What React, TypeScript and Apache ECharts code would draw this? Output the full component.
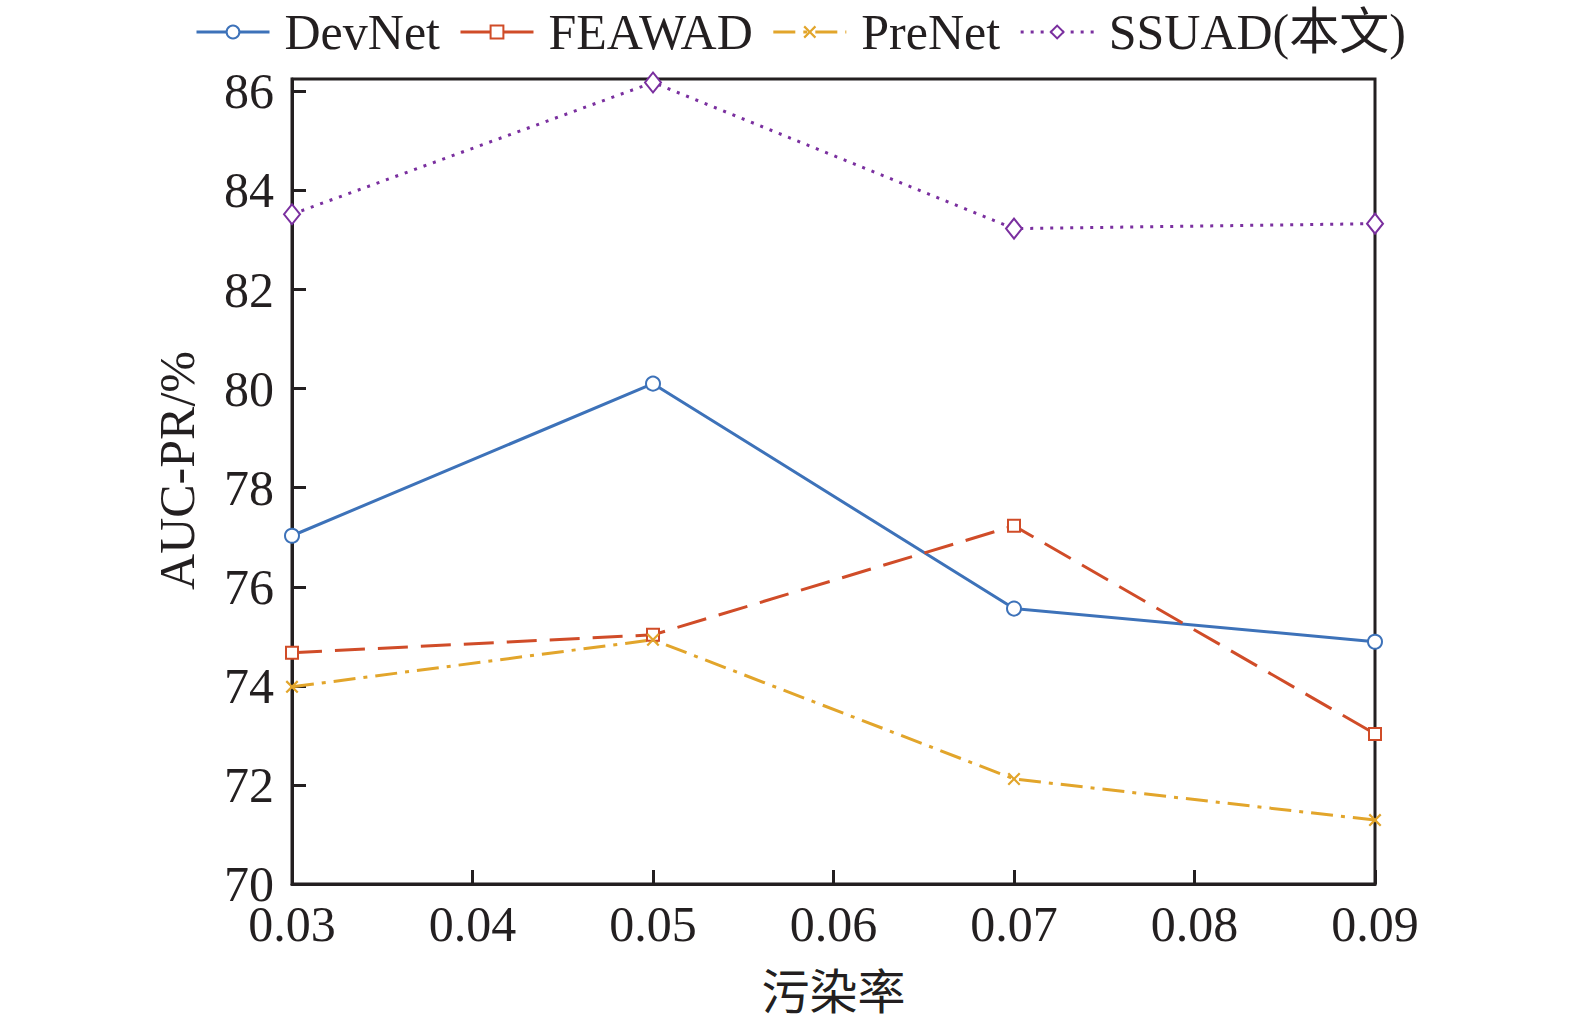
import React, { useEffect, useRef } from "react";
import * as echarts from "echarts";

const xValues = [0.03, 0.05, 0.07, 0.09];
const seriesNames = ["DevNet", "FEAWAD", "PreNet", "SSUAD(本文)"];
const devNet = [77.03, 80.1, 75.56, 74.89];
const feawad = [74.67, 75.03, 77.23, 73.03];
const preNet = [73.98, 74.93, 72.12, 71.29];
const ssuad = [83.52, 86.18, 83.23, 83.33];

const FONT = "'Liberation Serif', 'Times New Roman', 'Noto Sans CJK SC', serif";
const TEXT = "#231f20";
const X_SYMBOL =
  "path://M0,1.2L1.2,0L5,3.8L8.8,0L10,1.2L6.2,5L10,8.8L8.8,10L5,6.2L1.2,10L0,8.8L3.8,5Z";
const DASHES: any[] = ["solid", [30, 13], [22, 8, 4, 8], [3, 7]];
const COLORS = ["#3d72b9", "#d04c28", "#e2a52b", "#7a2f9f"];

export default function App() {
  const ref = useRef<HTMLDivElement>(null);
  useEffect(() => {
    if (!ref.current) return;
    const chart = echarts.init(ref.current, undefined, { renderer: "svg" });
    const mk = (vals: number[]) => xValues.map((x, i) => [x, vals[i]]);
    chart.setOption({
      animation: false,
      backgroundColor: "#ffffff",
      textStyle: { fontFamily: FONT, color: TEXT },
      legend: {
        top: 2,
        left: 190,
        itemWidth: 73,
        itemHeight: 16,
        itemGap: 19,
        textStyle: {
          fontFamily: FONT,
          fontSize: 50,
          color: TEXT,
          padding: [0, 0, 0, 10],
        },
        data: seriesNames.map((n, i) => ({
          name: n,
          lineStyle: { type: DASHES[i], width: 3, color: COLORS[i] },
        })),
      },
      grid: {
        left: 292,
        top: 79,
        right: 200,
        bottom: 144,
        show: true,
        borderColor: TEXT,
        borderWidth: 3,
      },
      xAxis: {
        type: "value",
        min: 0.03,
        max: 0.09,
        interval: 0.01,
        name: "污染率",
        nameLocation: "middle",
        nameGap: 84,
        nameTextStyle: { fontFamily: FONT, fontSize: 48, color: TEXT },
        axisLine: { show: true, lineStyle: { color: TEXT, width: 3 } },
        axisTick: { show: true, inside: true, length: 14, lineStyle: { color: TEXT, width: 3 } },
        axisLabel: {
          fontFamily: FONT,
          fontSize: 50,
          lineHeight: 36,
          color: TEXT,
          margin: 22,
          formatter: (v: number) => v.toFixed(2),
        },
        splitLine: { show: false },
      },
      yAxis: {
        type: "value",
        min: 70,
        max: 86.25,
        interval: 2,
        name: "AUC-PR/%",
        nameLocation: "middle",
        nameGap: 90,
        nameTextStyle: {
          fontFamily: FONT,
          fontSize: 50,
          color: TEXT,
          padding: [0, 0, 0, 22],
        },
        axisLine: { show: true, lineStyle: { color: TEXT, width: 3 } },
        axisTick: { show: true, inside: true, length: 14, lineStyle: { color: TEXT, width: 3 } },
        axisLabel: {
          fontFamily: FONT,
          fontSize: 50,
          lineHeight: 36,
          color: TEXT,
          margin: 18,
          showMaxLabel: false,
          formatter: (v: number) => (Math.abs(v % 2) < 1e-6 ? String(v) : ""),
        },
        splitLine: { show: false },
      },
      series: [
        {
          name: seriesNames[0],
          type: "line",
          data: mk(devNet),
          symbol: "emptyCircle",
          symbolSize: 14,
          color: COLORS[0],
          lineStyle: { width: 3, type: DASHES[0] },
          itemStyle: { borderWidth: 2.5 },
        },
        {
          name: seriesNames[1],
          type: "line",
          data: mk(feawad),
          symbol: "emptyRect",
          symbolSize: 12,
          color: COLORS[1],
          lineStyle: { width: 3, type: DASHES[1] },
          itemStyle: { borderWidth: 2.5 },
        },
        {
          name: seriesNames[2],
          type: "line",
          data: mk(preNet),
          symbol: X_SYMBOL,
          symbolSize: 13,
          color: COLORS[2],
          lineStyle: { width: 3, type: DASHES[2] },
        },
        {
          name: seriesNames[3],
          type: "line",
          data: mk(ssuad),
          symbol: "emptyDiamond",
          symbolSize: [16, 20],
          color: COLORS[3],
          lineStyle: { width: 3, type: DASHES[3] },
          itemStyle: { borderWidth: 2.5 },
        },
      ],
    });
    return () => chart.dispose();
  }, []);
  return (
    <div
      ref={ref}
      style={{ position: "fixed", left: 0, top: 0, width: 1575, height: 1028 }}
    />
  );
}
